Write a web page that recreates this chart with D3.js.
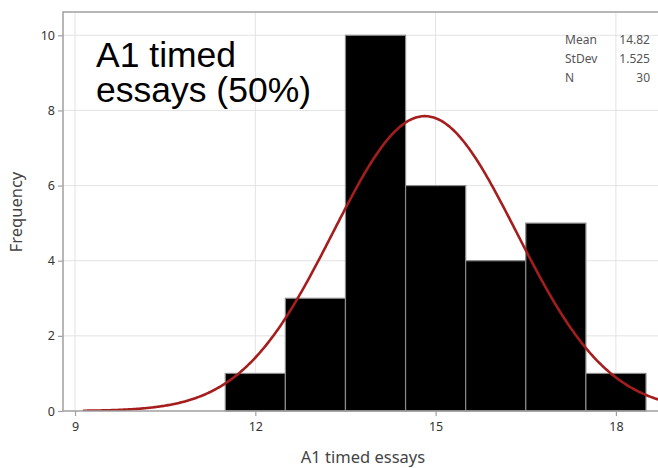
<!DOCTYPE html>
<html>
<head>
<meta charset="utf-8">
<script src="https://cdn.jsdelivr.net/npm/d3@7"></script>
<style>
  body { margin: 0; background: #fff; }
  svg { display: block; }
</style>
</head>
<body>
<svg id="chart"></svg>
<script>
// Histogram bins (lower edge, upper edge) and counts
const binStarts = [11.5, 12.5, 13.5, 14.5, 15.5, 16.5, 17.5];
const binWidth = 1;
const counts = [1, 3, 10, 6, 4, 5, 1];
const xTicks = [9, 12, 15, 18];
const yTicks = [0, 2, 4, 6, 8, 10];
// Summary stats shown in the corner
const statLabels = ["Mean", "StDev", "N"];
const statValues = ["14.82", "1.525", "30"];
const mean = 14.82;
const stdev = 1.525;
const n = 30;

const W = 658, H = 468;
const plot = { left: 63, top: 12, right: 664, bottom: 411 };

const svg = d3.select("#chart").attr("width", W).attr("height", H);

const x = d3.scaleLinear().domain([8.8, 18.8]).range([plot.left, plot.right]);
const y = d3.scaleLinear().domain([0, 10.62]).range([plot.bottom, plot.top]);

// Gridlines
svg.append("g")
  .selectAll("line")
  .data(xTicks)
  .enter()
  .append("line")
  .attr("x1", (d) => x(d)).attr("x2", (d) => x(d))
  .attr("y1", plot.top).attr("y2", plot.bottom)
  .attr("stroke", "#e3e3e3").attr("stroke-width", 1);

svg.append("g")
  .selectAll("line")
  .data(yTicks.filter((d) => d > 0))
  .enter()
  .append("line")
  .attr("x1", plot.left).attr("x2", plot.right)
  .attr("y1", (d) => y(d)).attr("y2", (d) => y(d))
  .attr("stroke", "#e3e3e3").attr("stroke-width", 1);

// Bars
svg.append("g")
  .selectAll("rect")
  .data(counts)
  .enter()
  .append("rect")
  .attr("x", (d, i) => x(binStarts[i]))
  .attr("y", (d) => y(d))
  .attr("width", (d, i) => x(binStarts[i] + binWidth) - x(binStarts[i]))
  .attr("height", (d) => y(0) - y(d))
  .attr("fill", "#000")
  .attr("stroke", "#8a8a8a")
  .attr("stroke-width", 1.2);

// Fitted normal curve, scaled to counts
const scaleK = n * binWidth;
const curveXs = d3.range(9.13, 18.9, 0.02);
const curve = curveXs.map((v) => [
  v,
  (scaleK / (stdev * Math.sqrt(2 * Math.PI))) *
    Math.exp(-0.5 * Math.pow((v - mean) / stdev, 2))
]);

svg.append("clipPath").attr("id", "clip")
  .append("rect")
  .attr("x", plot.left).attr("y", plot.top)
  .attr("width", plot.right - plot.left).attr("height", plot.bottom - plot.top);

svg.append("path")
  .datum(curve)
  .attr("clip-path", "url(#clip)")
  .attr("fill", "none")
  .attr("stroke", "#a51d1d")
  .attr("stroke-width", 2.6)
  .attr("d", d3.line().x((d) => x(d[0])).y((d) => y(d[1])));

// Frame
svg.append("path")
  .attr("d", `M${plot.right},${plot.top}H${plot.left}V${plot.bottom}H${plot.right}`)
  .attr("fill", "none")
  .attr("stroke", "#a0a0a0")
  .attr("stroke-width", 1.5);

// Axes
const xAxis = svg.append("g")
  .attr("transform", `translate(0,${plot.bottom})`)
  .call(d3.axisBottom(x).tickValues(xTicks).tickSize(5).tickPadding(6));
const yAxis = svg.append("g")
  .attr("transform", `translate(${plot.left},0)`)
  .call(d3.axisLeft(y).tickValues(yTicks).tickSize(5).tickPadding(3));

[xAxis, yAxis].forEach((g) => {
  g.select(".domain").remove();
  g.selectAll(".tick line").attr("stroke", "#a0a0a0").attr("stroke-width", 1.2);
  g.selectAll(".tick text")
    .attr("fill", "#333")
    .style("font-family", "'Noto Sans', 'Open Sans', sans-serif")
    .style("font-size", "12.5px");
});

// Axis titles
svg.append("text")
  .attr("x", 363).attr("y", 463)
  .attr("text-anchor", "middle")
  .attr("fill", "#444")
  .style("font-family", "'Noto Sans', 'Open Sans', sans-serif")
  .style("font-size", "16.5px")
  .text("A1 timed essays");

svg.append("text")
  .attr("transform", "translate(22,212) rotate(-90)")
  .attr("text-anchor", "middle")
  .attr("fill", "#444")
  .style("font-family", "'Noto Sans', 'Open Sans', sans-serif")
  .style("font-size", "16.5px")
  .text("Frequency");

// Big title inside the plot
const title = svg.append("text")
  .attr("x", 96)
  .attr("fill", "#000")
  .style("font-family", "'Liberation Sans', Arial, sans-serif")
  .style("font-size", "35.5px");
title.append("tspan").attr("x", 96).attr("y", 67).text("A1 timed");
title.append("tspan").attr("x", 96).attr("y", 102).text("essays (50%)");

// Stats box
const stats = svg.append("g")
  .style("font-family", "'Noto Sans', 'Open Sans', sans-serif")
  .style("font-size", "12px")
  .attr("fill", "#555");
stats.selectAll(".lab")
  .data(statLabels)
  .enter()
  .append("text")
  .attr("x", 565)
  .attr("y", (d, i) => 44 + i * 18.8)
  .text((d) => d);
stats.selectAll(".val")
  .data(statValues)
  .enter()
  .append("text")
  .attr("x", 650)
  .attr("y", (d, i) => 44 + i * 18.8)
  .attr("text-anchor", "end")
  .text((d) => d);
</script>
</body>
</html>
